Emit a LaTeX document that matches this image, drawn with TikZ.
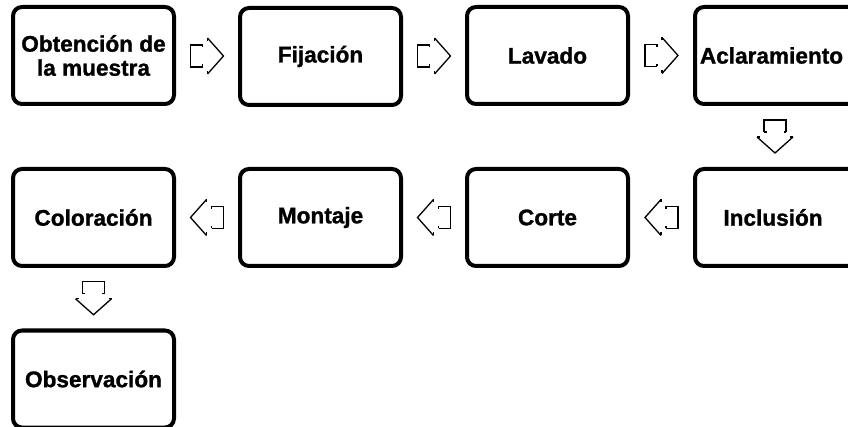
\documentclass[tikz,border=0pt]{standalone}
\usepackage{fontspec}
\setmainfont{Liberation Sans}[BoldFeatures={FakeBold=1.2}]
\usetikzlibrary{calc}
\begin{document}
\begin{tikzpicture}[x=1pt,y=-1pt,
  stepbox/.style={draw=black, line width=4pt, rounded corners=9pt,
    minimum width=161pt, minimum height=97pt, inner sep=0pt, align=center,
    font=\fontsize{22.6}{24}\selectfont\bfseries},
  arrowline/.style={draw=black, line width=1.3pt, line join=miter},
  blockarrow/.pic={
    \draw[arrowline] (-4.5,-11) -- (-16.5,-11) -- (-16.5,11) -- (-4.5,11);
    \draw[arrowline] (-4.5,-11) -- (-4.5,-8.5);
    \draw[arrowline] (-4.5,11) -- (-4.5,8.5);
    \draw[arrowline] (0.5,-18) -- (16.5,0) -- (0.5,18);
    \draw[arrowline] (0.5,-18) -- (0.5,-15);
    \draw[arrowline] (0.5,18) -- (0.5,15);
  }]
\useasboundingbox (0,0) rectangle (848,427);
\clip (0,0) rectangle (848,427);
% row 1
\node[stepbox] (b1) at (93.5,55.5) {Obtención de\\la muestra};
\node[stepbox] (b2) at (320.5,56.5) {Fijación};
\node[stepbox] (b3) at (547.5,55.5) {Lavado};
\node[stepbox, minimum width=180pt, anchor=west] (b4) at (693,55.5) {Aclaramiento\hspace*{27pt}};
% row 2
\node[stepbox] (c1) at (93.5,217.5) {Coloración};
\node[stepbox] (c2) at (320.5,217.5) {Montaje};
\node[stepbox] (c3) at (547.5,217.5) {Corte};
\node[stepbox, minimum width=180pt, anchor=west] (c4) at (693,217.5) {Inclusión\hspace*{24pt}};
% row 3
\node[stepbox] (d1) at (93.5,379) {Observación};
% arrows
\path ($(b1.east)!0.5!(b2.west)$) pic {blockarrow};
\path ($(b2.east)!0.5!(b3.west)$) pic {blockarrow};
\path ($(b3.east)!0.5!(b4.west)$) pic {blockarrow};
\path ($(b4.south west)!0.5!(c4.north west)+(82,0)$) pic[rotate=-90] {blockarrow};
\path ($(c4.west)!0.5!(c3.east)$) pic[rotate=180] {blockarrow};
\path ($(c3.west)!0.5!(c2.east)$) pic[rotate=180] {blockarrow};
\path ($(c2.west)!0.5!(c1.east)$) pic[rotate=180] {blockarrow};
\path ($(c1.south)!0.5!(d1.north)$) pic[rotate=-90] {blockarrow};
\end{tikzpicture}
\end{document}
